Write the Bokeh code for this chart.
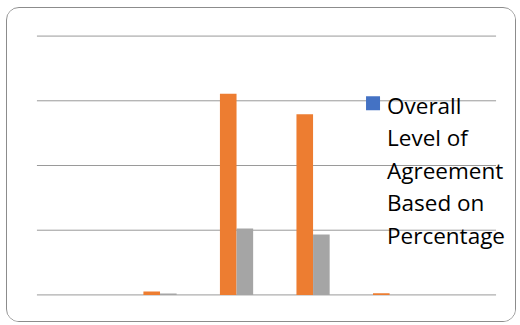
from bokeh.plotting import figure
from bokeh.models import ColumnDataSource, FactorRange, Range1d, Label
from bokeh.transform import dodge
from bokeh.embed import file_html
from bokeh.resources import INLINE

# ---- data ----
categories = ["1", "2", "3", "4", "5", "6"]
overall = [0, 0, 0, 0, 0, 0]
series_orange = [0, 1.3, 77.7, 69.8, 0.6, 0]
series_grey = [0, 0.5, 25.7, 23.3, 0, 0]
y_ticks = [0, 25, 50, 75, 100]
legend_label = "Overall Level of Agreement Based on Percentage"
legend_lines = ["Overall", "Level of", "Agreement", "Based on", "Percentage"]

src = ColumnDataSource(dict(cat=categories, blue=overall, orange=series_orange, grey=series_grey))

pad = 0.28
p = figure(width=510, height=315,
           x_range=FactorRange(factors=categories, range_padding=pad, range_padding_units="absolute"),
           y_range=Range1d(-1, 101), output_backend="svg", toolbar_location=None,
           min_border_left=8, min_border_right=0, min_border_top=25, min_border_bottom=26)
p.styles = {"border": "1px solid #8c8c8c", "border-radius": "13px",
            "margin-left": "6px", "margin-top": "7px", "overflow": "hidden"}
p.outline_line_color = None
p.xaxis.visible = False
p.yaxis.visible = False
p.xgrid.grid_line_color = None
p.ygrid.grid_line_color = None

# horizontal gridlines spanning the category area only
n = len(categories)
p.segment(x0=[0] * len(y_ticks), x1=[n] * len(y_ticks), y0=y_ticks, y1=y_ticks,
          line_color="#9a9a9a", line_width=1)

w = 0.217
p.vbar(x=dodge("cat", -w, range=p.x_range), top="blue", width=w, source=src,
       fill_color="#4472C4", line_color=None)
p.vbar(x=dodge("cat", 0, range=p.x_range), top="orange", width=w, source=src,
       fill_color="#ED7D31", line_color=None)
p.vbar(x=dodge("cat", w, range=p.x_range), top="grey", width=w, source=src,
       fill_color="#A5A5A5", line_color=None)

# legend (manual, wrapped like the original)
px_x = 76.5   # pixels per category
px_y = 2.583  # pixels per y unit
def dx(px): return (px - 36) / px_x
def dy(py): return (294.3 - py) / px_y

p.scatter(x=[dx(372)], y=[dy(103)], marker="square", size=14,
          fill_color="#4472C4", line_color=None)
for i, t in enumerate(legend_lines):
    p.add_layout(Label(x=dx(386), y=dy(105 + 32.5 * i), text=t,
                       text_font="Open Sans", text_font_size="22.5px",
                       text_color="#000000", text_baseline="middle", text_align="left"))

open("out.html", "w").write(file_html(p, INLINE))
